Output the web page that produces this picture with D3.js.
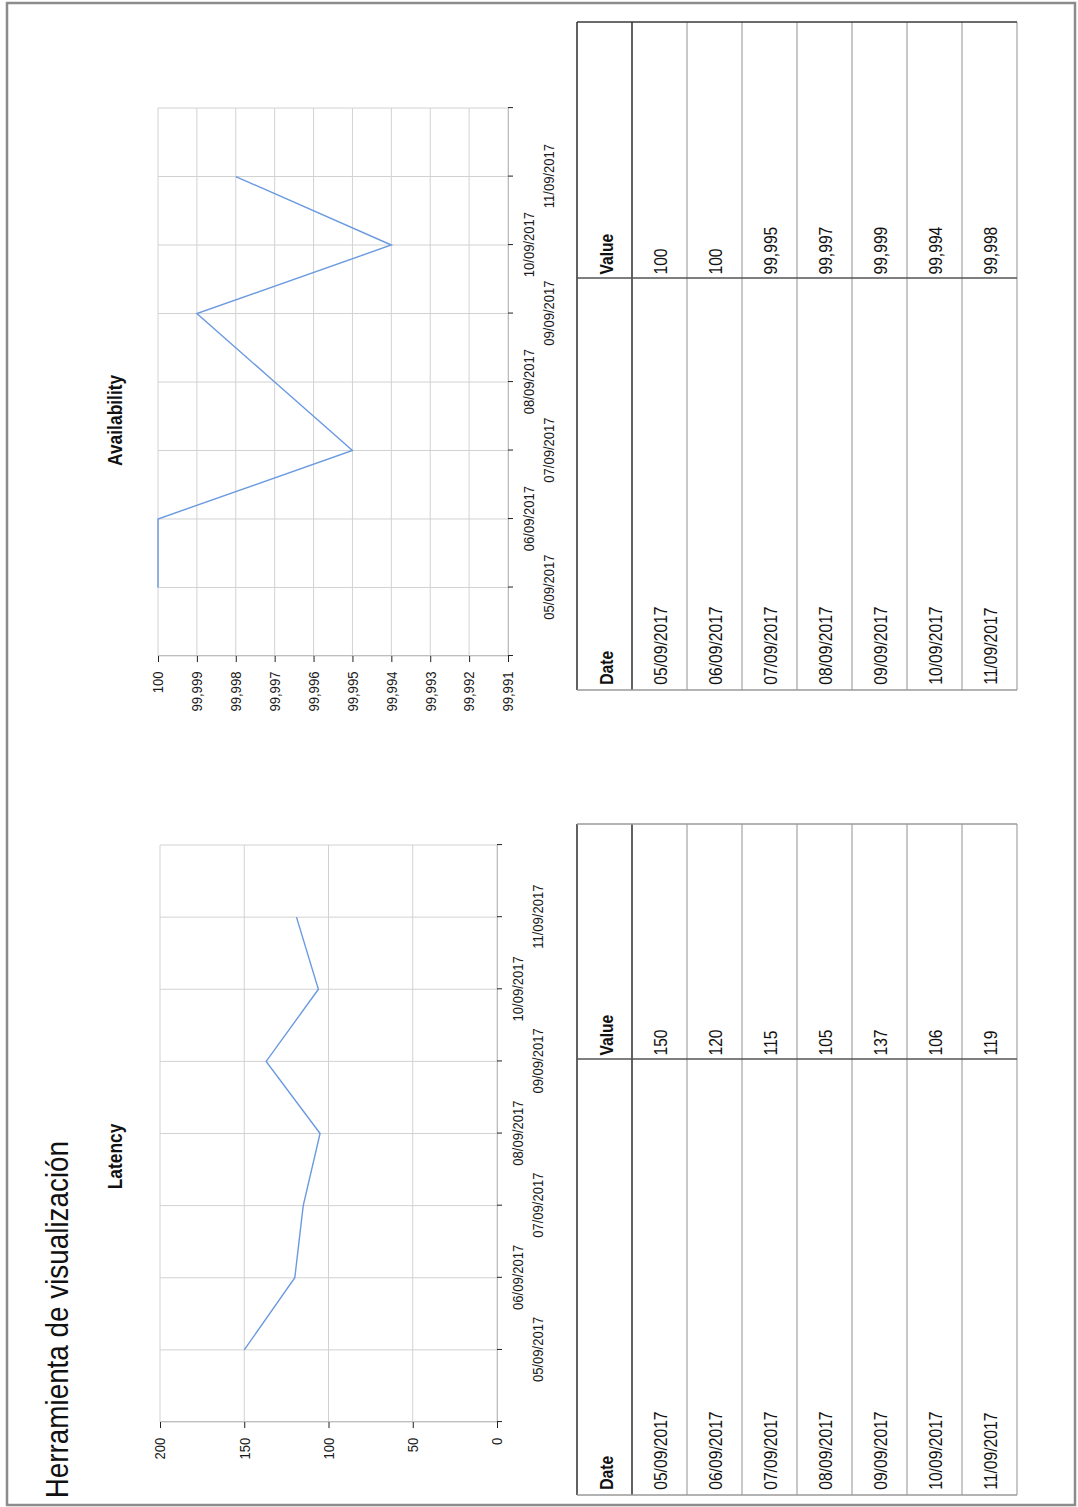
<!DOCTYPE html>
<meta charset="utf-8">
<style>
body{margin:0;background:#fff;}
svg{display:block;font-family:"Liberation Sans",Arial,sans-serif;}
.grid line{stroke:#d2d2d2;stroke-width:1px;vector-effect:non-scaling-stroke;}
.axis path{stroke:#bdbdbd;vector-effect:non-scaling-stroke;}
.axis line{stroke:#222;vector-effect:non-scaling-stroke;}
.axis text{font-size:15px;fill:#1a1a1a;font-family:"Liberation Sans",Arial,sans-serif;}
.series{fill:none;stroke:#6a9ae0;stroke-width:1.4px;vector-effect:non-scaling-stroke;}
.ctitle{font-size:20px;font-weight:bold;text-anchor:middle;fill:#111;}
.tbl text{font-size:18px;fill:#111;}
.tbl .hdr{font-weight:bold;}
.tbl line{vector-effect:non-scaling-stroke;}
</style>
<body>
<script src="https://d3js.org/d3.v7.min.js"></script>
<script>
// data
var dates = ["05/09/2017","06/09/2017","07/09/2017","08/09/2017","09/09/2017","10/09/2017","11/09/2017"];
var latency = [150,120,115,105,137,106,119];
var availability = [100,100,99.995,99.997,99.999,99.994,99.998];
var latencyTicks = [0,50,100,150,200];
var availTicks = [99.991,99.992,99.993,99.994,99.995,99.996,99.997,99.998,99.999,100];

var W = 1078, H = 1507, SX = 0.87;

var svg = d3.select("body").append("svg").attr("width",W).attr("height",H);

// page frame (screen coords)
svg.append("rect").attr("x",7).attr("y",3).attr("width",1068).attr("height",1502)
  .attr("fill","none").attr("stroke","#8c8c8c").attr("stroke-width",2.5);

// the page is a landscape sheet turned a quarter left
var page = svg.append("g").attr("transform","translate(0,"+H+") rotate(-90) scale("+SX+",1)");

page.append("text").text("Herramienta de visualización")
  .attr("x",10).attr("y",68).style("font-size","32px").attr("fill","#111");

function comma(d){ return String(d).replace(".", ","); }

function chart(o){
  var g = page.append("g");
  var x = d3.scaleLinear().domain([-1, dates.length]).range([o.u0, o.u1]);
  var y = d3.scaleLinear().domain(o.domain).range([o.v1, o.v0]);
  var xt = d3.range(-1, dates.length+1);

  var grid = g.append("g").attr("class","grid");
  grid.selectAll(".gx").data(xt).enter().append("line").attr("class","gx")
    .attr("x1",function(d){return x(d);}).attr("x2",function(d){return x(d);})
    .attr("y1",o.v0).attr("y2",o.v1);
  grid.selectAll(".gy").data(o.ticks).enter().append("line").attr("class","gy")
    .attr("x1",o.u0).attr("x2",o.u1)
    .attr("y1",function(d){return y(d);}).attr("y2",function(d){return y(d);});

  g.append("g").attr("class","axis").attr("transform","translate("+o.u0+",0)")
    .call(d3.axisLeft(y).tickValues(o.ticks).tickFormat(o.fmt).tickSize(7).tickSizeOuter(0).tickPadding(11));

  var xa = g.append("g").attr("class","axis").attr("transform","translate(0,"+o.v1+")")
    .call(d3.axisBottom(x).tickValues(xt).tickSize(5).tickSizeOuter(0)
      .tickFormat(function(i){ return i>=0 && i<dates.length ? dates[i] : ""; }));
  xa.selectAll("text").attr("dy",0).attr("y",function(i){ return i%2===0 ? 46 : 26; });

  g.append("path").datum(o.values).attr("class","series")
    .attr("d", d3.line().x(function(d,i){return x(i);}).y(function(d){return y(d);}));

  g.append("text").attr("class","ctitle").attr("x",o.tx).attr("y",122).text(o.title);
}

chart({title:"Latency", tx:403, u0:97.7, u1:760.9, v0:160, v1:497,
  domain:[0,200], ticks:latencyTicks, fmt:function(d){return d;}, values:latency});
chart({title:"Availability", tx:1249, u0:978.2, u1:1608, v0:158, v1:508,
  domain:[99.991,100], ticks:availTicks,
  fmt:function(d){ return d===100 ? "100" : comma(d3.format(".3f")(d)); }, values:availability});

function table(o){
  var g = page.append("g").attr("class","tbl");
  var v0 = 577, rh = 55, n = dates.length, v1 = v0 + rh*(n+1);
  var rows = d3.range(n+2);
  g.selectAll(".rl").data(rows).enter().append("line")
    .attr("x1",o.u0).attr("x2",o.u1)
    .attr("y1",function(r){return v0+r*rh;}).attr("y2",function(r){return v0+r*rh;})
    .attr("stroke",function(r){ return r<2 ? "#3a3a3a" : "#ababab"; })
    .attr("stroke-width",function(r){ return r<2 ? 1.6 : 1.3; });
  [[o.u0,"#9a9a9a"],[o.uSep,"#555"],[o.u1,o.edge]].forEach(function(c){
    g.append("line").attr("x1",c[0]).attr("x2",c[0]).attr("y1",v0).attr("y2",v1)
      .attr("stroke",c[1]).attr("stroke-width",1.4);
  });
  g.append("text").attr("class","hdr").attr("x",o.u0+6).attr("y",v0+36).text("Date");
  g.append("text").attr("class","hdr").attr("x",o.uSep+4).attr("y",v0+36).text("Value");
  g.selectAll(".dt").data(dates).enter().append("text")
    .attr("x",o.u0+6).attr("y",function(d,i){return v0+rh*(i+1)+35;}).text(function(d){return d;});
  g.selectAll(".vl").data(o.values).enter().append("text")
    .attr("x",o.uSep+4).attr("y",function(d,i){return v0+rh*(i+1)+35;}).text(function(d){return comma(d);});
}

table({u0:13.8, uSep:514.9, u1:785.1, edge:"#9a9a9a", values:latency});
table({u0:939.1, uSep:1412.6, u1:1706.9, edge:"#3a3a3a", values:availability});
</script>
</body>
